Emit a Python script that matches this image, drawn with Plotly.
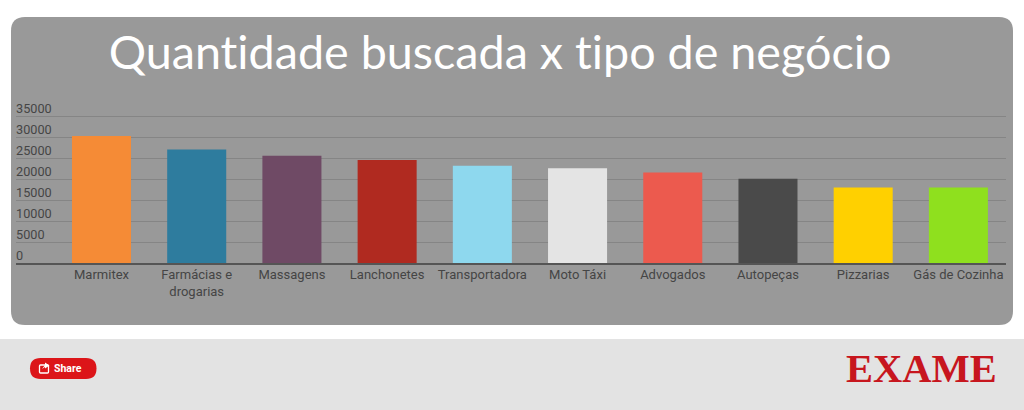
import plotly.graph_objects as go

# Datos
categories = ["Marmitex", "Farmácias e<br>drogarias", "Massagens", "Lanchonetes", "Transportadora",
              "Moto Táxi", "Advogados", "Autopeças", "Pizzarias", "Gás de Cozinha"]
values = [30300, 27050, 25600, 24600, 23200, 22600, 21600, 20100, 18000, 18000]
colors = ["#F58B36", "#2E7C9E", "#6F4A65", "#B02A20", "#8ED8EE",
          "#E4E4E4", "#EC5A4E", "#4A4A4A", "#FFD000", "#8FE01E"]
y_ticks = [0, 5000, 10000, 15000, 20000, 25000, 30000, 35000]

W, H = 1024, 410
BASE_Y = 263.2     # pixel del cero
STEP_5K = 21.0     # pixeles por cada 5000


# Pasar pixeles de la pagina a coordenadas paper
def px(x):
    return x / W


def py(y):
    return 1 - y / H


def round_rect(x0, y0, x1, y1, r):
    return (f"M {px(x0 + r)} {py(y0)} L {px(x1 - r)} {py(y0)} Q {px(x1)} {py(y0)} {px(x1)} {py(y0 + r)} "
            f"L {px(x1)} {py(y1 - r)} Q {px(x1)} {py(y1)} {px(x1 - r)} {py(y1)} "
            f"L {px(x0 + r)} {py(y1)} Q {px(x0)} {py(y1)} {px(x0)} {py(y1 - r)} "
            f"L {px(x0)} {py(y0 + r)} Q {px(x0)} {py(y0)} {px(x0 + r)} {py(y0)} Z")


fig = go.Figure()
fig.add_trace(go.Bar(x=list(range(len(categories))), y=values, marker=dict(color=colors, line_width=0), width=0.62))

# Panel gris, pie de pagina y boton
shapes = [
    dict(type="path", path=round_rect(11, 17, 1013, 325, 14), fillcolor="#999999", line_width=0, layer="below"),
    dict(type="rect", x0=0, x1=1, y0=py(410), y1=py(339), fillcolor="#E3E3E3", line_width=0, layer="below"),
    dict(type="path", path=round_rect(30, 358, 96.5, 379, 10.5), fillcolor="#DC1519", line_width=0, layer="below"),
    dict(type="path", path=round_rect(39.5, 365, 48.5, 373, 1), line=dict(color="white", width=1.3), layer="above"),
    dict(type="path", path=f"M {px(42)} {py(369)} L {px(45)} {py(365)} L {px(45)} {py(362.5)} L {px(49.5)} {py(365.5)} "
                          f"L {px(45)} {py(368.5)} L {px(45)} {py(367)} Z",
         fillcolor="white", line_width=0, layer="above"),
]
for s in shapes:
    s.update(xref="paper", yref="paper")

fig.update_layout(
    width=W, height=H, margin=dict(l=0, r=0, t=0, b=0), autosize=False,
    paper_bgcolor="white", plot_bgcolor="rgba(0,0,0,0)", showlegend=False, shapes=shapes,
    title=dict(text="Quantidade buscada x tipo de negócio", x=px(500), xanchor="center", y=py(53), yanchor="middle",
               font=dict(family="Lato", size=46.7, color="white")),
    annotations=[
        dict(text="Share", x=px(68), y=py(368), xref="paper", yref="paper", showarrow=False,
             xanchor="center", yanchor="middle",
             font=dict(family="Roboto", size=10.5, color="white", weight="bold")),
        dict(text="EXAME", x=px(921), y=py(368.5), xref="paper", yref="paper", showarrow=False,
             xanchor="center", yanchor="middle",
             font=dict(family="Liberation Serif", size=40.5, color="#C7161E", weight="bold")),
    ],
)
fig.update_xaxes(
    domain=[px(16), px(1006)], range=[-0.898, 9.5], tickmode="array", tickvals=list(range(len(categories))),
    ticktext=categories, tickangle=0, showgrid=False, ticks="", zeroline=False,
    showline=True, linecolor="#555555", linewidth=2, ticklabelstandoff=-2,
    tickfont=dict(family="Roboto", size=13, color="#454545"),
)
# Rango hasta 40000 para que la etiqueta 35000, subida sobre su linea, no se oculte
fig.update_yaxes(
    domain=[py(BASE_Y), py(BASE_Y - 8 * STEP_5K)], range=[0, 40000], tickmode="array", tickvals=y_ticks,
    ticktext=[str(v) for v in y_ticks], ticklabelposition="inside", ticklabelshift=-8, ticklabelstandoff=-3, ticks="",
    showgrid=True, gridcolor="#858585", gridwidth=1, zeroline=False,
    tickfont=dict(family="Roboto", size=12.7, color="#454545"),
)

page_js = ("document.body.style.margin='0';document.body.style.overflow='hidden';"
           "var st=document.createElement('style');"
           "st.textContent=\"text{font-variant-ligatures:none !important;font-feature-settings:'liga' 0 !important}\";"
           "document.head.appendChild(st);")
fig.write_html("out.html", config={"displayModeBar": False}, post_script=page_js)
